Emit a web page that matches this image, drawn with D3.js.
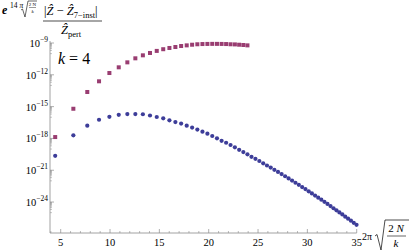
<!DOCTYPE html>
<html>
<head>
<meta charset="utf-8">
<script src="https://cdn.jsdelivr.net/npm/d3@7"></script>
<style>
  body { margin: 0; background: #fff; }
  svg { display: block; font-family: "Liberation Serif", "DejaVu Serif", serif; }
</style>
</head>
<body>
<div id="container"></div>
<script>
// x positions of the points: 2pi*sqrt(2N/k), N = 1..62
var xValues = [4.443, 6.283, 7.695, 8.886, 9.935, 10.883, 11.755, 12.566, 13.329, 14.050,
  14.735, 15.391, 16.019, 16.624, 17.207, 17.772, 18.319, 18.850, 19.366, 19.869,
  20.360, 20.839, 21.307, 21.766, 22.214, 22.654, 23.086, 23.510, 23.926, 24.335,
  24.737, 25.133, 25.523, 25.906, 26.285, 26.657, 27.025, 27.387, 27.746, 28.099,
  28.448, 28.793, 29.134, 29.471, 29.804, 30.134, 30.459, 30.782, 31.100, 31.416,
  31.729, 32.039, 32.346, 32.650, 32.950, 33.249, 33.545, 33.838, 34.128, 34.415,
  34.701, 34.983];

// magenta squares (first 29 points)
var magentaValues = [1.35e-18, 6.3e-16, 2.4e-14, 2.45e-13, 1.48e-12, 5.1e-12, 1.5e-11, 3.6e-11, 6.9e-11, 1.15e-10,
  1.8e-10, 2.6e-10, 3.4e-10, 4.2e-10, 5.2e-10, 6.0e-10, 6.9e-10, 7.6e-10, 8.0e-10, 8.2e-10,
  8.3e-10, 8.3e-10, 8.2e-10, 8.0e-10, 7.6e-10, 7.4e-10, 6.9e-10, 6.5e-10, 6.0e-10];

// blue circles (all 62 points)
var blueValues = [2.3e-20, 1.95e-18, 1.6e-17, 5.8e-17, 1.1e-16, 1.7e-16, 2.0e-16, 2.0e-16, 1.9e-16, 1.45e-16,
  1.05e-16, 7.9e-17, 5.1e-17, 3.5e-17, 2.5e-17, 1.6e-17, 1.05e-17, 6.8e-18, 4.3e-18, 2.8e-18,
  1.7e-18, 1.03e-18, 6.0e-19, 3.9e-19, 2.4e-19, 1.45e-19, 8.5e-20, 5.2e-20, 3.2e-20, 1.86e-20,
  1.2e-20, 7.4e-21, 4.5e-21, 2.8e-21, 1.8e-21, 1.1e-21, 6.9e-22, 4.3e-22, 2.7e-22, 1.7e-22,
  1.05e-22, 6.6e-23, 4.2e-23, 2.6e-23, 1.66e-23, 1.02e-23, 6.5e-24, 4.1e-24, 2.6e-24, 1.66e-24,
  1.05e-24, 6.6e-25, 4.2e-25, 2.6e-25, 1.66e-25, 1.05e-25, 6.8e-26, 4.2e-26, 2.7e-26, 1.74e-26,
  1.1e-26, 7.1e-27];

var xTicks = [5, 10, 15, 20, 25, 30, 35];
var yTickExps = [-9, -12, -15, -18, -21, -24];

var BLUE = "#3d3d99";
var MAGENTA = "#993d71";
var AXIS = "#8c8c8c";

function draw()
{
    var width = 409, height = 251;
    var x = d3.scaleLinear().domain([3.916, 35]).range([50, 356.7]);
    var y = d3.scaleLog().domain([Math.pow(10, -26.92), Math.pow(10, -8.81)]).range([233, 41]);

    var svg = d3.select("#container").append("svg")
        .attr("width", width).attr("height", height);

    // axes lines
    svg.append("line").attr("x1", 50).attr("x2", 356.7).attr("y1", 233).attr("y2", 233)
        .attr("stroke", AXIS).attr("stroke-width", 0.8);
    svg.append("line").attr("x1", 50).attr("x2", 50).attr("y1", 41).attr("y2", 233)
        .attr("stroke", AXIS).attr("stroke-width", 0.8);

    // x ticks: major + minor
    var xMinor = d3.range(4, 36).filter(v => v % 5 != 0);
    svg.append("g").selectAll("line").data(xMinor).join("line")
        .attr("x1", d => x(d)).attr("x2", d => x(d))
        .attr("y1", 233).attr("y2", 231)
        .attr("stroke", AXIS).attr("stroke-width", 0.6);
    svg.append("g").selectAll("line").data(xTicks).join("line")
        .attr("x1", d => x(d)).attr("x2", d => x(d))
        .attr("y1", 233).attr("y2", 229)
        .attr("stroke", AXIS).attr("stroke-width", 0.7);
    svg.append("g").selectAll("text").data(xTicks).join("text")
        .attr("x", d => x(d)).attr("y", 246)
        .attr("text-anchor", "middle").attr("font-size", 10.5)
        .text(d => d);

    // y ticks: major + minor multiples
    var yMinor = [];
    yTickExps.forEach(e => {
        for (var m = 2; m <= 9; m++) yMinor.push(m * Math.pow(10, e - 1));
        yMinor.push(Math.pow(10, e - 1));
    });
    svg.append("g").selectAll("line").data(yMinor).join("line")
        .attr("x1", 50).attr("x2", 52)
        .attr("y1", d => y(d)).attr("y2", d => y(d))
        .attr("stroke", AXIS).attr("stroke-width", 0.5);
    svg.append("g").selectAll("line").data(yTickExps).join("line")
        .attr("x1", 50).attr("x2", 54)
        .attr("y1", d => y(Math.pow(10, d))).attr("y2", d => y(Math.pow(10, d)))
        .attr("stroke", AXIS).attr("stroke-width", 0.7);
    var yl = svg.append("g").selectAll("text").data(yTickExps).join("text")
        .attr("x", 48).attr("y", d => y(Math.pow(10, d)) + 4)
        .attr("text-anchor", "end").attr("font-size", 10.5);
    yl.append("tspan").text("10");
    yl.append("tspan").attr("dy", -5).attr("font-size", 7.5).text(d => "\u2212" + (-d));

    // blue circles
    svg.append("g").attr("fill", BLUE)
        .selectAll("circle").data(blueValues).join("circle")
        .attr("cx", (d, i) => x(xValues[i]))
        .attr("cy", d => y(d))
        .attr("r", 2.1);

    // magenta squares
    svg.append("g").attr("fill", MAGENTA)
        .selectAll("rect").data(magentaValues).join("rect")
        .attr("x", (d, i) => x(xValues[i]) - 2)
        .attr("y", d => y(d) - 2)
        .attr("width", 4).attr("height", 4);

    // k = 4
    var kt = svg.append("text").attr("x", 58).attr("y", 64).attr("font-size", 16);
    kt.append("tspan").attr("font-style", "italic").text("k");
    kt.append("tspan").text(" = 4");

    // y label (top left)
    var t = svg.append("g");
    t.append("text").attr("x", 2).attr("y", 14).attr("font-size", 12)
        .attr("font-style", "italic").attr("font-weight", "bold").text("e");
    var sup = t.append("text").attr("x", 10).attr("y", 8).attr("font-size", 7.5);
    sup.append("tspan").text("14 ");
    sup.append("tspan").attr("font-style", "italic").text("\u03c0");
    t.append("path").attr("d", "M21,10 L22.5,9 L25,17 L28,1 L37,1")
        .attr("fill", "none").attr("stroke", "#000").attr("stroke-width", 0.6);
    t.append("text").attr("x", 32.5).attr("y", 6).attr("font-size", 5)
        .attr("text-anchor", "middle").text("2 N");
    t.append("line").attr("x1", 29).attr("x2", 36).attr("y1", 7.5).attr("y2", 7.5)
        .attr("stroke", "#000").attr("stroke-width", 0.4);
    t.append("text").attr("x", 32.5).attr("y", 12.5).attr("font-size", 5)
        .attr("font-style", "italic").attr("text-anchor", "middle").text("k");

    var num = t.append("text").attr("x", 44).attr("y", 15).attr("font-size", 12.5);
    num.append("tspan").text("|");
    num.append("tspan").attr("font-style", "italic").text("\u1e90");
    num.append("tspan").text(" \u2212 ");
    num.append("tspan").attr("font-style", "italic").text("\u1e90");
    num.append("tspan").attr("font-size", 8.5).attr("dy", 3).text("7\u2212inst");
    num.append("tspan").attr("dy", -3).text("|");
    t.append("line").attr("x1", 43).attr("x2", 102).attr("y1", 21).attr("y2", 21)
        .attr("stroke", "#000").attr("stroke-width", 0.7);
    var den = t.append("text").attr("x", 61).attr("y", 34).attr("font-size", 12.5);
    den.append("tspan").attr("font-style", "italic").text("\u1e90");
    den.append("tspan").attr("font-size", 8.5).attr("dy", 3).text("pert");

    // x label (bottom right)
    var xl = svg.append("g");
    xl.append("text").attr("x", 362).attr("y", 240).attr("font-size", 10)
        .append("tspan").text("2\u03c0");
    xl.append("path").attr("d", "M375,236 L377,234.5 L381,250 L385,220 L409,220")
        .attr("fill", "none").attr("stroke", "#000").attr("stroke-width", 0.7);
    var n2 = xl.append("text").attr("x", 396).attr("y", 232).attr("font-size", 11)
        .attr("text-anchor", "middle");
    n2.append("tspan").text("2 ");
    n2.append("tspan").attr("font-style", "italic").text("N");
    xl.append("line").attr("x1", 387).attr("x2", 406).attr("y1", 236).attr("y2", 236)
        .attr("stroke", "#000").attr("stroke-width", 0.6);
    xl.append("text").attr("x", 396).attr("y", 247).attr("font-size", 11)
        .attr("font-style", "italic").attr("text-anchor", "middle").text("k");
}

draw();
</script>
</body>
</html>
